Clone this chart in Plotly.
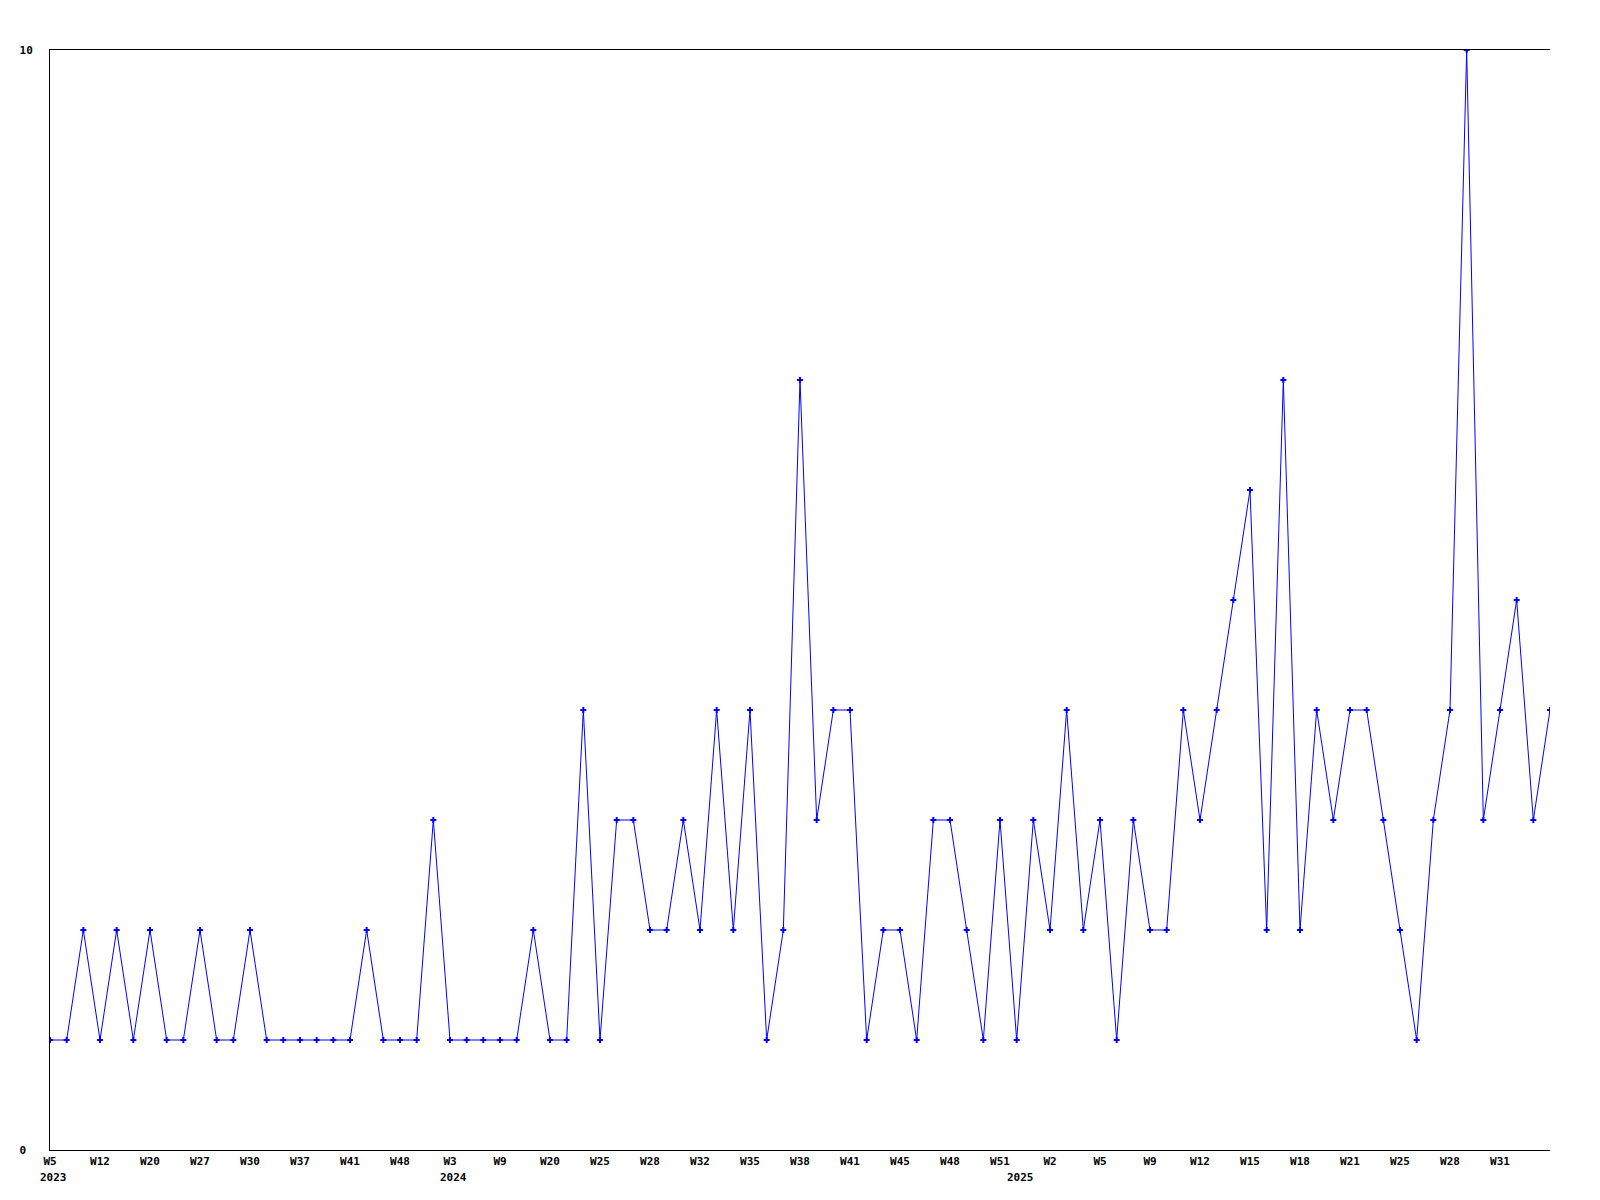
import plotly.graph_objects as go

# Weekly counts (one per data week, in order)
values = [1, 1, 2, 1, 2, 1, 2, 1, 1, 2, 1, 1, 2, 1, 1, 1, 1, 1, 1, 2,
          1, 1, 1, 3, 1, 1, 1, 1, 1, 2, 1, 1, 4, 1, 3, 3, 2, 2, 3, 2,
          4, 2, 4, 1, 2, 7, 3, 4, 4, 1, 2, 2, 1, 3, 3, 2, 1, 3, 1, 3,
          2, 4, 2, 3, 1, 3, 2, 2, 4, 3, 4, 5, 6, 2, 7, 2, 4, 3, 4, 4,
          3, 2, 1, 3, 4, 10, 3, 4, 5, 3, 4]

# Week labels shown on every third data point
tick_labels = ["W5", "W12", "W20", "W27", "W30", "W37", "W41", "W48", "W3", "W9",
               "W20", "W25", "W28", "W32", "W35", "W38", "W41", "W45", "W48", "W51",
               "W2", "W5", "W9", "W12", "W15", "W18", "W21", "W25", "W28", "W31"]
tick_step = 3

# Year markers: (data point index, year)
year_pos = [0, 24, 58]
year_text = ["2023", "2024", "2025"]

x = list(range(len(values)))
tickvals = [i * tick_step for i in range(len(tick_labels))]

font_family = "DejaVu Sans Mono"

fig = go.Figure()
fig.add_trace(go.Scatter(
    x=x, y=values, mode="lines+markers",
    line=dict(color="#0000FF", width=1),
    marker=dict(symbol="cross", size=5, color="#0000FF", line=dict(width=0)),
    hoverinfo="x+y", showlegend=False,
))

for p, t in zip(year_pos, year_text):
    fig.add_annotation(x=p, y=0, xref="x", yref="paper", text=t, showarrow=False,
                       xanchor="left", yanchor="middle", xshift=-12, yshift=-27,
                       font=dict(family=font_family, size=11, color="black", weight="bold"))

fig.update_layout(
    width=1600, height=1200,
    margin=dict(l=42, r=58, t=42, b=58),
    paper_bgcolor="white", plot_bgcolor="white",
    xaxis=dict(range=[0, len(values) - 1], tickvals=tickvals, ticktext=tick_labels,
               showgrid=False, zeroline=False, showline=True, linecolor="black",
               linewidth=1, mirror=True, ticks="", ticklabelstandoff=1,
               tickfont=dict(family=font_family, size=11, color="black", weight="bold")),
    yaxis=dict(range=[0, 10], tickvals=[0, 10], ticktext=["0\u00a0", "10"],
               showgrid=False, zeroline=False, showline=True, linecolor="black",
               linewidth=1, mirror=False, ticks="", ticklabelstandoff=14,
               tickfont=dict(family=font_family, size=11, color="black", weight="bold")),
)

fig.write_html("out.html")
